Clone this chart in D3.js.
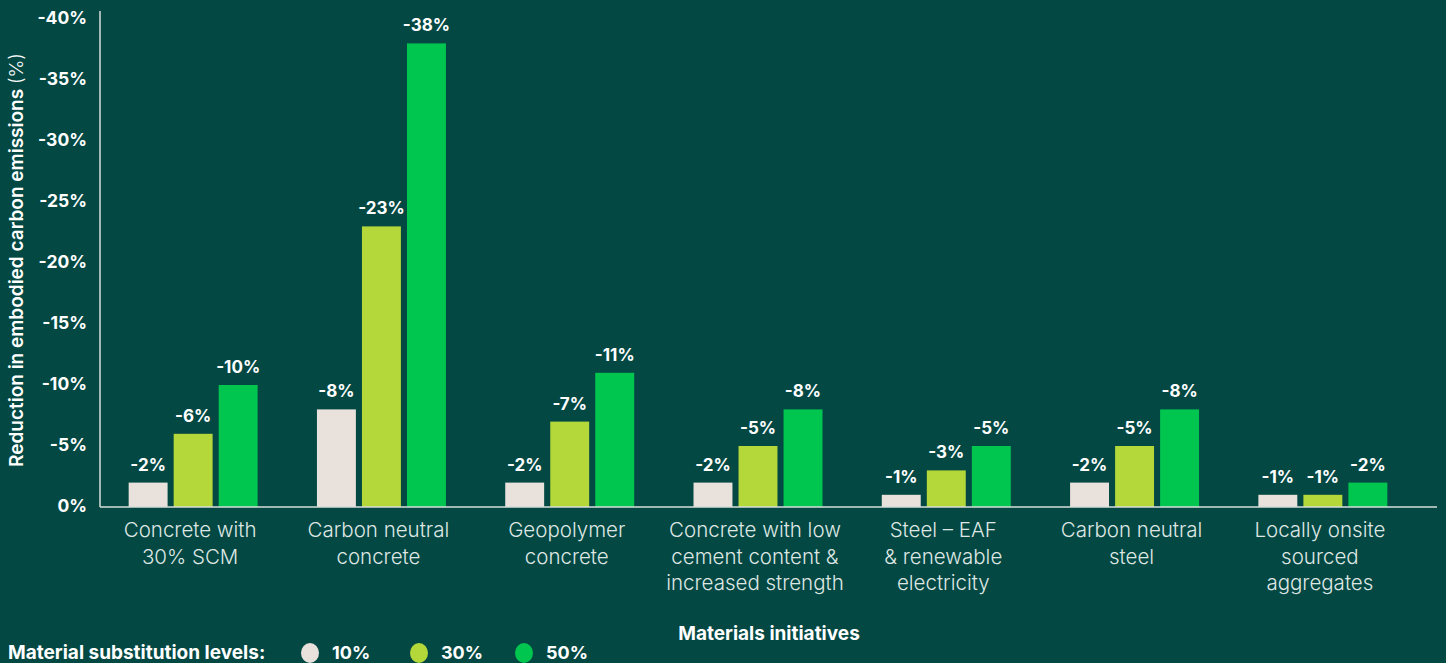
<!DOCTYPE html>
<html>
<head>
<meta charset="utf-8">
<script src="https://cdn.jsdelivr.net/npm/d3@7"></script>
<style>
  html, body { margin: 0; padding: 0; background: #034843; }
  svg { display: block; font-family: Inter, "Noto Sans", sans-serif; }
</style>
</head>
<body>
<svg id="chart" width="1446" height="663"></svg>
<script>
const categories = [
  "Concrete with 30% SCM",
  "Carbon neutral concrete",
  "Geopolymer concrete",
  "Concrete with low cement content & increased strength",
  "Steel – EAF & renewable electricity",
  "Carbon neutral steel",
  "Locally onsite sourced aggregates"
];
const categoryLines = [
  ["Concrete with", "30% SCM"],
  ["Carbon neutral", "concrete"],
  ["Geopolymer", "concrete"],
  ["Concrete with low", "cement content &", "increased strength"],
  ["Steel – EAF", "& renewable", "electricity"],
  ["Carbon neutral", "steel"],
  ["Locally onsite", "sourced", "aggregates"]
];
const levels = ["10%", "30%", "50%"];
const values10 = [2, 8, 2, 2, 1, 2, 1];
const values30 = [6, 23, 7, 5, 3, 5, 1];
const values50 = [10, 38, 11, 8, 5, 8, 2];
const yTicks = [0, 5, 10, 15, 20, 25, 30, 35, 40];
const colors = ["#E8E1DC", "#B4D73A", "#00C650"];

const series = [values10, values30, values50];

const svg = d3.select("#chart");
const W = 1446, H = 663;
svg.append("rect").attr("width", W).attr("height", H).attr("fill", "#034843");

const x0 = d3.scaleBand().domain(categories).range([99, 1417])
  .paddingInner(0.315).paddingOuter(0.1575);
const x1 = d3.scaleBand().domain(levels).range([0, x0.bandwidth()])
  .paddingInner(0.135).paddingOuter(0);
const y = d3.scaleLinear().domain([0, 40]).range([507, 19]);
const color = d3.scaleOrdinal().domain(levels).range(colors);

const fmt = v => v === 0 ? "0%" : "-" + v + "%";

// Y axis
const yAxis = svg.append("g").attr("transform", "translate(100,0)")
  .call(d3.axisLeft(y).tickValues(yTicks).tickFormat(fmt).tickSize(0).tickPadding(13));
yAxis.select(".domain").remove();
yAxis.selectAll("text")
  .attr("fill", "#ffffff")
  .attr("font-size", 17.5)
  .attr("font-weight", 700)
  .attr("font-family", "Inter, sans-serif")
  .attr("dy", "0.25em");

svg.append("line").attr("x1", 100).attr("x2", 100).attr("y1", 11).attr("y2", 507)
  .attr("stroke", "#d7dedb").attr("stroke-width", 1.5);

// Bars
const groups = svg.append("g").selectAll("g").data(categories).join("g")
  .attr("transform", d => `translate(${x0(d)},0)`);

groups.selectAll("rect")
  .data((d, i) => levels.map((l, j) => ({ level: l, value: series[j][i] })))
  .join("rect")
  .attr("x", d => x1(d.level))
  .attr("width", x1.bandwidth())
  .attr("y", d => y(d.value))
  .attr("height", d => y(0) - y(d.value))
  .attr("fill", d => color(d.level));

groups.selectAll("text.val")
  .data((d, i) => levels.map((l, j) => ({ level: l, value: series[j][i] })))
  .join("text")
  .attr("class", "val")
  .attr("x", d => x1(d.level) + x1.bandwidth() / 2)
  .attr("y", d => y(d.value) - 12)
  .attr("text-anchor", "middle")
  .attr("fill", "#ffffff")
  .attr("font-size", 17)
  .attr("font-weight", 700)
  .text(d => fmt(d.value));

// Baseline
svg.append("line").attr("x1", 100).attr("x2", 1437).attr("y1", 507).attr("y2", 507)
  .attr("stroke", "#d7dedb").attr("stroke-width", 1.5);

// Category labels
const catG = svg.append("g");
categories.forEach((c, i) => {
  const cx = x0(c) + x0.bandwidth() / 2 - 3;
  const t = catG.append("text")
    .attr("x", cx)
    .attr("y", 537)
    .attr("text-anchor", "middle")
    .attr("fill", "#dfe7e3")
    .attr("font-size", 20.5)
    .attr("font-weight", 300);
  categoryLines[i].forEach((line, k) => {
    t.append("tspan").attr("x", cx)
      .attr("dy", k === 0 ? 0 : 26.5).text(line);
  });
});

// Y axis title
const yt = svg.append("text")
  .attr("transform", "translate(23,260) rotate(-90)")
  .attr("text-anchor", "middle")
  .attr("fill", "#ffffff")
  .attr("font-size", 19)
  .attr("font-weight", 600);
yt.append("tspan").text("Reduction in embodied carbon emissions ");
yt.append("tspan").attr("font-weight", 300).text("(%)");

// X axis title
svg.append("text")
  .attr("x", 769).attr("y", 640)
  .attr("text-anchor", "middle")
  .attr("fill", "#ffffff")
  .attr("font-size", 19)
  .attr("font-weight", 700)
  .text("Materials initiatives");

// Legend
const leg = svg.append("g");
leg.append("text").attr("x", 8).attr("y", 659)
  .attr("fill", "#ffffff").attr("font-size", 19).attr("font-weight", 700)
  .text("Material substitution levels:");
const legX = [310, 419, 524];
levels.forEach((l, i) => {
  leg.append("ellipse").attr("cx", legX[i]).attr("cy", 653).attr("rx", 9).attr("ry", 10)
    .attr("fill", color(l));
  leg.append("text").attr("x", legX[i] + 22).attr("y", 659)
    .attr("fill", "#ffffff").attr("font-size", 18).attr("font-weight", 700)
    .text(l);
});
</script>
</body>
</html>
